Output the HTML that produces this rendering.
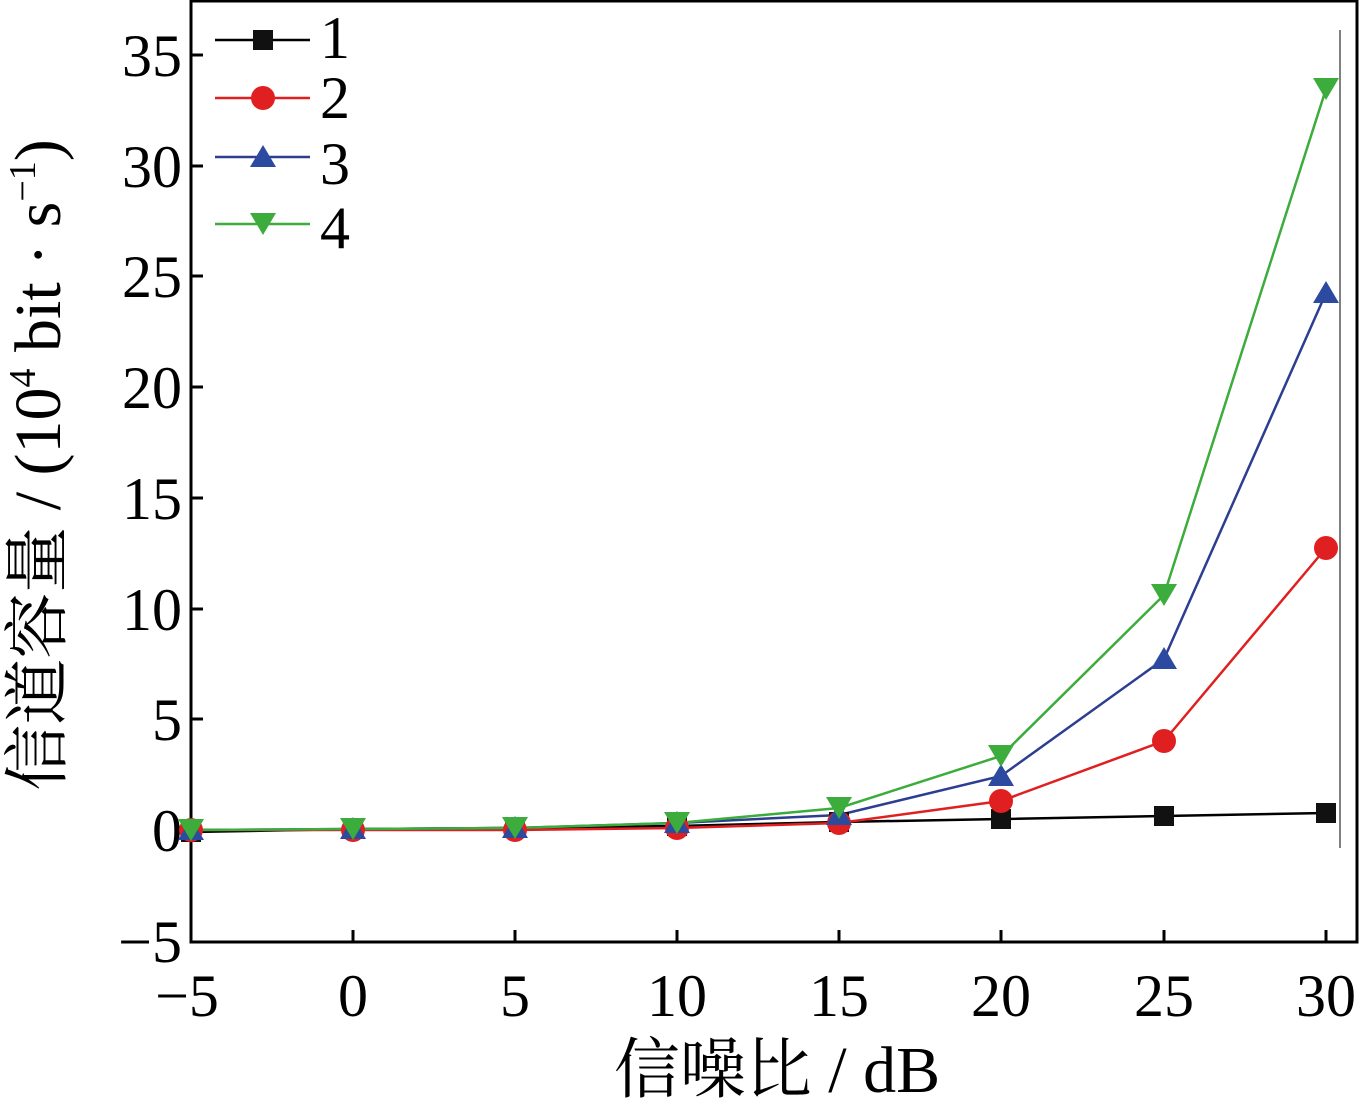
<!DOCTYPE html>
<html><head><meta charset="utf-8"><style>body{margin:0;background:#fff}</style></head><body>
<svg width="1361" height="1099" xmlns="http://www.w3.org/2000/svg" font-family="'Liberation Serif','Noto Serif CJK SC',serif">
<rect x="191" y="1" width="1166" height="941" fill="none" stroke="#000" stroke-width="3"/>
<line x1="1340" y1="30" x2="1340" y2="848" stroke="#000" stroke-width="1"/>
<g stroke="#000" stroke-width="3">
<line x1="191" y1="55" x2="203" y2="55"/><line x1="191" y1="166" x2="203" y2="166"/><line x1="191" y1="276" x2="203" y2="276"/><line x1="191" y1="387" x2="203" y2="387"/><line x1="191" y1="498" x2="203" y2="498"/><line x1="191" y1="609" x2="203" y2="609"/><line x1="191" y1="719" x2="203" y2="719"/><line x1="191" y1="830" x2="203" y2="830"/>
<line x1="353" y1="942" x2="353" y2="930"/><line x1="515" y1="942" x2="515" y2="930"/><line x1="677" y1="942" x2="677" y2="930"/><line x1="839" y1="942" x2="839" y2="930"/><line x1="1001" y1="942" x2="1001" y2="930"/><line x1="1164" y1="942" x2="1164" y2="930"/><line x1="1326" y1="942" x2="1326" y2="930"/>
</g>
<g font-size="60" text-anchor="end" fill="#000">
<text x="182" y="76">35</text><text x="182" y="187">30</text><text x="182" y="297">25</text><text x="182" y="408">20</text><text x="182" y="519">15</text><text x="182" y="630">10</text><text x="182" y="740">5</text><text x="182" y="851">0</text><text x="182" y="962">−5</text>
</g>
<g font-size="60" text-anchor="middle" fill="#000">
<text x="187" y="1016">−5</text><text x="353" y="1016">0</text><text x="515" y="1016">5</text><text x="677" y="1016">10</text><text x="839" y="1016">15</text><text x="1001" y="1016">20</text><text x="1164" y="1016">25</text><text x="1326" y="1016">30</text>
<text x="777" y="1092" font-size="66">信噪比 / dB</text>
</g>
<text transform="translate(60,465) rotate(-90)" font-size="66" text-anchor="middle">信道容量 / (10<tspan font-size="38" dy="-25">4</tspan><tspan dy="25"> bit · s</tspan><tspan font-size="38" dy="-25">−1</tspan><tspan dy="25">)</tspan></text>
<polyline fill="none" stroke="#000" stroke-width="2.5" points="191,832 353,829 515,828 677,826 839,822 1001,819 1164,816 1326,813"/>
<polyline fill="none" stroke="#e02020" stroke-width="2.5" points="191,830 353,830 515,830 677,828 839,823 1001,801 1164,741 1326,548"/>
<polyline fill="none" stroke="#2c3e90" stroke-width="2.5" points="191,830 353,829 515,828 677,823 839,815 1001,776 1164,659 1326,293"/>
<polyline fill="none" stroke="#3cac3c" stroke-width="2.5" points="191,830 353,829 515,828 677,823 839,808 1001,756 1164,595 1326,89"/>
<g fill="#111"><rect x="181" y="822" width="20" height="20"/><rect x="343" y="819" width="20" height="20"/><rect x="505" y="818" width="20" height="20"/><rect x="667" y="816" width="20" height="20"/><rect x="829" y="812" width="20" height="20"/><rect x="991" y="809" width="20" height="20"/><rect x="1154" y="806" width="20" height="20"/><rect x="1316" y="803" width="20" height="20"/></g>
<g fill="#e02020"><circle cx="191" cy="830" r="12"/><circle cx="353" cy="830" r="12"/><circle cx="515" cy="830" r="12"/><circle cx="677" cy="828" r="12"/><circle cx="839" cy="823" r="12"/><circle cx="1001" cy="801" r="12"/><circle cx="1164" cy="741" r="12"/><circle cx="1326" cy="548" r="12"/></g>
<g fill="#2c4aa0"><path d="M191,818 l13,22 h-26z M353,817 l13,22 h-26z M515,816 l13,22 h-26z M677,811 l13,22 h-26z M839,803 l13,22 h-26z M1001,764 l13,22 h-26z M1164,647 l13,22 h-26z M1326,281 l13,22 h-26z"/></g>
<g fill="#3cac3c"><path d="M191,841 l13,-22 h-26z M353,840 l13,-22 h-26z M515,839 l13,-22 h-26z M677,834 l13,-22 h-26z M839,819 l13,-22 h-26z M1001,767 l13,-22 h-26z M1164,606 l13,-22 h-26z M1326,100 l13,-22 h-26z"/></g>
<line x1="215" y1="40" x2="310" y2="40" stroke="#000" stroke-width="2.5"/><rect x="253" y="30" width="20" height="20" fill="#111"/>
<line x1="215" y1="98" x2="310" y2="98" stroke="#e02020" stroke-width="2.5"/><circle cx="263" cy="98" r="12" fill="#e02020"/>
<line x1="215" y1="157" x2="310" y2="157" stroke="#2c3e90" stroke-width="2.5"/><path d="M263,145 l13,22 h-26z" fill="#2c4aa0"/>
<line x1="215" y1="224" x2="310" y2="224" stroke="#3cac3c" stroke-width="2.5"/><path d="M263,235 l13,-22 h-26z" fill="#3cac3c"/>
<g font-size="60"><text x="320" y="58">1</text><text x="320" y="118">2</text><text x="320" y="184">3</text><text x="320" y="248">4</text></g>
</svg>
</body></html>
